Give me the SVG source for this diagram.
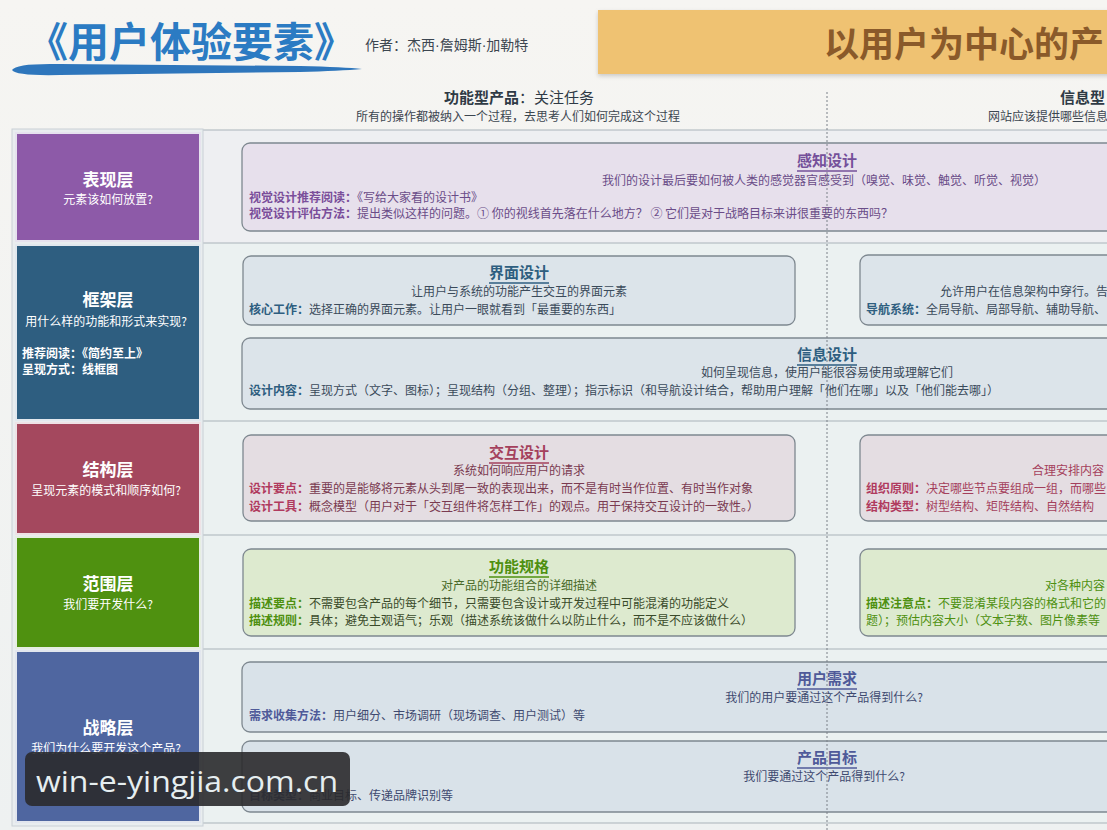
<svg xmlns="http://www.w3.org/2000/svg" width="1107" height="830" viewBox="0 0 1107 830">
<defs>
<style>
text{font-family:"Noto Sans CJK SC","Noto Sans",sans-serif;}
.lt{font-size:17px;font-weight:bold;fill:#ffffff;text-anchor:middle;}
.ls{font-size:12px;fill:#ffffff;text-anchor:middle;}
.lsl{font-size:12px;fill:#ffffff;font-weight:bold;}
.bt{font-size:15px;font-weight:bold;text-anchor:middle;}
.bs{font-size:12px;text-anchor:middle;}
.bb{font-size:12px;}
.b{font-weight:bold;}
.dot{font-family:"Liberation Sans",sans-serif;}
.sep{stroke:#A9B3BA;stroke-width:1.2;}
.box{stroke:#7E8890;stroke-width:1.3;}
</style>
<linearGradient id="bg" x1="0" y1="0" x2="0" y2="1">
<stop offset="0" stop-color="#F6F5F2"/>
<stop offset="1" stop-color="#EEF1F1"/>
</linearGradient>
<filter id="sh" x="-5%" y="-20%" width="110%" height="150%">
<feDropShadow dx="0" dy="2" stdDeviation="2" flood-color="#000" flood-opacity="0.18"/>
</filter>
</defs>
<rect width="1107" height="830" fill="url(#bg)"/>

<g id="header">
<text x="27" y="57" style="font-size:41px;font-weight:bold;fill:#2B7BC3">《用户体验要素》</text>
<path d="M12 70 Q16 63 60 64 L300 66 Q345 67 362 69 Q340 71 300 72 L60 75 Q16 76 12 70 Z" fill="#2E76BC"/>
<text x="365" y="50" style="font-size:14px;fill:#3C4650">作者：杰西<tspan class="dot">·</tspan>詹姆斯<tspan class="dot">·</tspan>加勒特</text>
<rect x="598" y="10" width="520" height="64" fill="#EFC272" filter="url(#sh)"/>
<text x="824" y="57" style="font-size:35px;font-weight:bold;fill:#8A5A2A">以用户为中心的产</text>
<text x="519" y="103" style="font-size:15px;fill:#2F3A45;text-anchor:middle"><tspan class="b">功能型产品</tspan>：关注任务</text>
<text x="518" y="121" style="font-size:12px;fill:#3C4650;text-anchor:middle">所有的操作都被纳入一个过程，去思考人们如何完成这个过程</text>
<text x="1060" y="103" style="font-size:15px;font-weight:bold;fill:#2F3A45">信息型</text>
<text x="988" y="121" style="font-size:12px;fill:#3C4650">网站应该提供哪些信息</text>
</g>

<g id="content-bg">
<rect x="203" y="130" width="904" height="693" fill="#EBF1F1"/>
<rect x="203" y="130" width="904" height="113" fill="#EEEFF2"/>
<line class="sep" x1="203" y1="130" x2="1107" y2="130"/>
<line class="sep" x1="203" y1="243" x2="1107" y2="243"/>
<line class="sep" x1="203" y1="421" x2="1107" y2="421"/>
<line class="sep" x1="203" y1="535" x2="1107" y2="535"/>
<line class="sep" x1="203" y1="649" x2="1107" y2="649"/>
<line class="sep" x1="203" y1="823" x2="1107" y2="823"/>
<rect x="12" y="129" width="191" height="697" fill="#E9EDEF" stroke="#C9D0D6"/>
</g>

<g id="layer-surface">
<rect x="16" y="133" width="184" height="108" fill="#8D5AA8" stroke="#E6E2EE" stroke-width="2"/>
<text class="lt" x="108" y="186">表现层</text>
<text class="ls" x="108" y="204">元素该如何放置?</text>
</g>
<g id="layer-skeleton">
<rect x="16" y="245" width="184" height="175" fill="#2E5E80" stroke="#E2E8EE" stroke-width="2"/>
<text class="lt" x="108" y="306">框架层</text>
<text class="ls" x="106" y="326">用什么样的功能和形式来实现?</text>
<text class="lsl" x="22" y="358">推荐阅读：《简约至上》</text>
<text class="lsl" x="22" y="374">呈现方式：线框图</text>
</g>
<g id="layer-structure">
<rect x="16" y="423" width="184" height="111" fill="#A4485E" stroke="#EEE2E6" stroke-width="2"/>
<text class="lt" x="108" y="476">结构层</text>
<text class="ls" x="106" y="495">呈现元素的模式和顺序如何?</text>
</g>
<g id="layer-scope">
<rect x="16" y="537" width="184" height="111" fill="#4F9110" stroke="#E6EEE2" stroke-width="2"/>
<text class="lt" x="108" y="590">范围层</text>
<text class="ls" x="108" y="609">我们要开发什么?</text>
</g>
<g id="layer-strategy">
<rect x="16" y="651" width="184" height="171" fill="#4F66A0" stroke="#E2E6EE" stroke-width="2"/>
<text class="lt" x="108" y="734">战略层</text>
<text class="ls" x="106" y="753">我们为什么要开发这个产品?</text>
</g>

<g id="visual-design">
<rect class="box" x="242" y="143" width="900" height="88" rx="8" fill="#E7E0EC"/>
<text class="bt" x="827" y="166" fill="#75509A">感知设计</text>
<line x1="797" y1="171" x2="857" y2="171" stroke="#75509A" stroke-width="1.5"/>
<text class="bs" x="824" y="185" fill="#6A4C88">我们的设计最后要如何被人类的感觉器官感受到（嗅觉、味觉、触觉、听觉、视觉）</text>
<text class="bb" x="249" y="202" fill="#6A4C88"><tspan class="b" fill="#7A4E9A">视觉设计推荐阅读：</tspan>《写给大家看的设计书》</text>
<text class="bb" x="249" y="218" fill="#6A4C88"><tspan class="b" fill="#7A4E9A">视觉设计评估方法：</tspan>提出类似这样的问题。① 你的视线首先落在什么地方？ ② 它们是对于战略目标来讲很重要的东西吗？</text>
</g>

<g id="interface-design">
<rect class="box" x="243" y="256" width="552" height="69" rx="8" fill="#DCE4EA"/>
<text class="bt" x="519" y="278" fill="#2E5E80">界面设计</text>
<line x1="489" y1="283" x2="549" y2="283" stroke="#2E5E80" stroke-width="1.5"/>
<text class="bs" x="519" y="296" fill="#3A4A5A">让用户与系统的功能产生交互的界面元素</text>
<text class="bb" x="249" y="314" fill="#3A4A5A"><tspan class="b" fill="#2E5E80">核心工作：</tspan>选择正确的界面元素。让用户一眼就看到「最重要的东西」</text>
</g>
<g id="navigation-design">
<rect class="box" x="860" y="255" width="300" height="70" rx="8" fill="#DCE4EA"/>
<text class="bs" x="940" y="296" fill="#3A4A5A" style="text-anchor:start">允许用户在信息架构中穿行。告</text>
<text class="bb" x="866" y="314" fill="#3A4A5A"><tspan class="b" fill="#2E5E80">导航系统：</tspan>全局导航、局部导航、辅助导航、</text>
</g>
<g id="information-design">
<rect class="box" x="242" y="338" width="900" height="71" rx="8" fill="#DCE4EA"/>
<text class="bt" x="827" y="360" fill="#2E5E80">信息设计</text>
<line x1="797" y1="365" x2="857" y2="365" stroke="#2E5E80" stroke-width="1.5"/>
<text class="bs" x="827" y="377" fill="#3A4A5A">如何呈现信息，使用户能很容易使用或理解它们</text>
<text class="bb" x="249" y="395" fill="#3A4A5A"><tspan class="b" fill="#2E5E80">设计内容：</tspan>呈现方式（文字、图标）；呈现结构（分组、整理）；指示标识（和导航设计结合，帮助用户理解「他们在哪」以及「他们能去哪」）</text>
</g>

<g id="interaction-design">
<rect class="box" x="243" y="435" width="552" height="86" rx="8" fill="#E4DDE2"/>
<text class="bt" x="519" y="458" fill="#A4405C">交互设计</text>
<line x1="489" y1="463" x2="549" y2="463" stroke="#A4405C" stroke-width="1.5"/>
<text class="bs" x="519" y="475" fill="#7A3A50">系统如何响应用户的请求</text>
<text class="bb" x="249" y="493" fill="#7A3A50"><tspan class="b" fill="#B03A5E">设计要点：</tspan>重要的是能够将元素从头到尾一致的表现出来，而不是有时当作位置、有时当作对象</text>
<text class="bb" x="249" y="511" fill="#7A3A50"><tspan class="b" fill="#B03A5E">设计工具：</tspan>概念模型（用户对于「交互组件将怎样工作」的观点。用于保持交互设计的一致性。）</text>
</g>
<g id="information-architecture">
<rect class="box" x="860" y="435" width="300" height="86" rx="8" fill="#E4DDE2"/>
<text class="bs" x="1032" y="475" fill="#A4405C" style="text-anchor:start">合理安排内容</text>
<text class="bb" x="866" y="493" fill="#A4405C"><tspan class="b" fill="#B03A5E">组织原则：</tspan>决定哪些节点要组成一组，而哪些</text>
<text class="bb" x="866" y="511" fill="#A4405C"><tspan class="b" fill="#B03A5E">结构类型：</tspan>树型结构、矩阵结构、自然结构</text>
</g>

<g id="functional-spec">
<rect class="box" x="243" y="549" width="552" height="87" rx="8" fill="#DDEACF"/>
<text class="bt" x="519" y="572" fill="#4E9010">功能规格</text>
<line x1="489" y1="577" x2="549" y2="577" stroke="#4E9010" stroke-width="1.5"/>
<text class="bs" x="519" y="590" fill="#4A6A2A">对产品的功能组合的详细描述</text>
<text class="bb" x="249" y="608" fill="#3A4A2A"><tspan class="b" fill="#4E9010">描述要点：</tspan>不需要包含产品的每个细节，只需要包含设计或开发过程中可能混淆的功能定义</text>
<text class="bb" x="249" y="625" fill="#3A4A2A"><tspan class="b" fill="#4E9010">描述规则：</tspan>具体；避免主观语气；乐观（描述系统该做什么以防止什么，而不是不应该做什么）</text>
</g>
<g id="content-requirements">
<rect class="box" x="860" y="549" width="300" height="87" rx="8" fill="#DDEACF"/>
<text class="bs" x="1045" y="590" fill="#4E9010" style="text-anchor:start">对各种内容</text>
<text class="bb" x="866" y="608" fill="#4E9010"><tspan class="b">描述注意点：</tspan>不要混淆某段内容的格式和它的</text>
<text class="bb" x="866" y="625" fill="#4E9010">题）；预估内容大小（文本字数、图片像素等</text>
</g>

<g id="user-needs">
<rect class="box" x="242" y="662" width="900" height="70" rx="8" fill="#D9E2E9"/>
<text class="bt" x="827" y="684" fill="#4F5A99">用户需求</text>
<line x1="797" y1="689" x2="857" y2="689" stroke="#4F5A99" stroke-width="1.5"/>
<text class="bs" x="824" y="702" fill="#3F4A70">我们的用户要通过这个产品得到什么?</text>
<text class="bb" x="249" y="720" fill="#3F4A70"><tspan class="b" fill="#4F5A99">需求收集方法：</tspan>用户细分、市场调研（现场调查、用户测试）等</text>
</g>
<g id="product-objectives">
<rect class="box" x="242" y="741" width="900" height="71" rx="8" fill="#D9E2E9"/>
<text class="bt" x="827" y="763" fill="#4F5A99">产品目标</text>
<line x1="797" y1="768" x2="857" y2="768" stroke="#4F5A99" stroke-width="1.5"/>
<text class="bs" x="824" y="781" fill="#3F4A70">我们要通过这个产品得到什么?</text>
<text class="bb" x="249" y="800" fill="#3F4A70"><tspan class="b" fill="#4F5A99">目标类型：</tspan>商业目标、传递品牌识别等</text>
</g>

<g id="connectors">
<line x1="827" y1="92" x2="827" y2="830" stroke="#7A8088" stroke-width="1" stroke-dasharray="2 2"/>
</g>

<g id="watermark">
<rect x="25" y="752" width="325" height="54" rx="7" fill="#2A2A2C" fill-opacity="0.9"/>
<text x="36" y="792" style="font-family:'Open Sans','Noto Sans',sans-serif;font-size:30px;fill:#E6EEF0" textLength="302" lengthAdjust="spacingAndGlyphs">win-e-yingjia.com.cn</text>
</g>
</svg>
